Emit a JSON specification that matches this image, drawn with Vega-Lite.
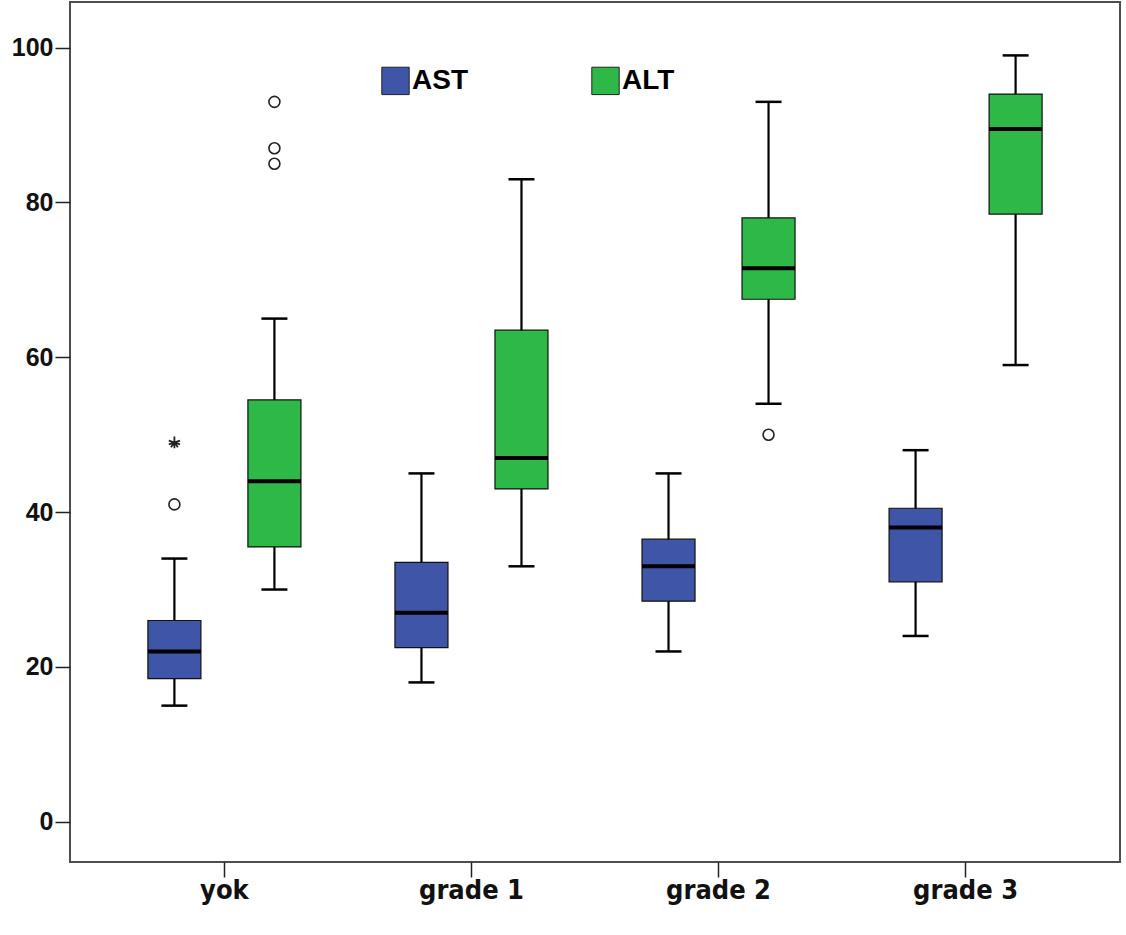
{
  "$schema": "https://vega.github.io/schema/vega-lite/v6.json",
  "autosize": "none",
  "width": 1050,
  "height": 860,
  "padding": {"left": 70, "top": 2, "right": 6, "bottom": 73},
  "background": "white",
  "config": {
    "view": {"stroke": "#4d4d4d", "strokeWidth": 2},
    "font": "Liberation Sans, Arial, sans-serif"
  },
  "datasets": {
    "boxes": [
      {"grade": "yok", "enzyme": "AST", "lower": 15, "q1": 18.5, "median": 22, "q3": 26, "upper": 34},
      {"grade": "yok", "enzyme": "ALT", "lower": 30, "q1": 35.5, "median": 44, "q3": 54.5, "upper": 65},
      {"grade": "grade 1", "enzyme": "AST", "lower": 18, "q1": 22.5, "median": 27, "q3": 33.5, "upper": 45},
      {"grade": "grade 1", "enzyme": "ALT", "lower": 33, "q1": 43, "median": 47, "q3": 63.5, "upper": 83},
      {"grade": "grade 2", "enzyme": "AST", "lower": 22, "q1": 28.5, "median": 33, "q3": 36.5, "upper": 45},
      {"grade": "grade 2", "enzyme": "ALT", "lower": 54, "q1": 67.5, "median": 71.5, "q3": 78, "upper": 93},
      {"grade": "grade 3", "enzyme": "AST", "lower": 24, "q1": 31, "median": 38, "q3": 40.5, "upper": 48},
      {"grade": "grade 3", "enzyme": "ALT", "lower": 59, "q1": 78.5, "median": 89.5, "q3": 94, "upper": 99}
    ],
    "outliers": [
      {"grade": "yok", "enzyme": "AST", "value": 41, "kind": "outlier"},
      {"grade": "yok", "enzyme": "AST", "value": 49, "kind": "extreme"},
      {"grade": "yok", "enzyme": "ALT", "value": 85, "kind": "outlier"},
      {"grade": "yok", "enzyme": "ALT", "value": 87, "kind": "outlier"},
      {"grade": "yok", "enzyme": "ALT", "value": 93, "kind": "outlier"},
      {"grade": "grade 2", "enzyme": "ALT", "value": 50, "kind": "outlier"}
    ]
  },
  "encoding": {
    "x": {
      "field": "grade", "type": "nominal",
      "sort": ["yok", "grade 1", "grade 2", "grade 3"],
      "scale": {"domain": ["yok", "grade 1", "grade 2", "grade 3"], "paddingInner": 0, "paddingOuter": 0.125},
      "axis": {
        "title": null, "domain": false, "labelAngle": 0,
        "tickColor": "#222", "tickWidth": 1.5, "tickSize": 15,
        "labelFont": "Liberation Sans Narrow, Arial Narrow, DejaVu Sans Condensed, Roboto Condensed, Liberation Sans, sans-serif",
        "labelFontSize": 27, "labelFontWeight": "bold",
        "labelColor": "#111", "labelPadding": 0
      }
    },
    "xOffset": {
      "field": "enzyme", "type": "nominal",
      "scale": {"domain": ["AST", "ALT"], "paddingInner": 0.47, "paddingOuter": 0.47}
    }
  },
  "layer": [
    {
      "data": {"name": "boxes"},
      "mark": {"type": "rule", "color": "black", "strokeWidth": 2.2},
      "encoding": {
        "y": {
          "field": "lower", "type": "quantitative",
          "scale": {"domain": [-5.2, 105.9], "nice": false, "zero": false},
          "axis": {
            "title": null, "domain": false, "grid": false,
            "values": [0, 20, 40, 60, 80, 100],
            "tickColor": "#222", "tickWidth": 1.5, "tickSize": 15,
            "labelFont": "Liberation Sans, Arial, sans-serif", "labelFontSize": 25, "labelFontWeight": "bold",
            "labelColor": "#111", "labelPadding": 2
          }
        },
        "y2": {"field": "upper"}
      }
    },
    {
      "data": {"name": "boxes"},
      "mark": {"type": "bar", "stroke": "#111", "strokeWidth": 1.2},
      "encoding": {
        "y": {"field": "q1", "type": "quantitative"},
        "y2": {"field": "q3"},
        "color": {
          "field": "enzyme", "type": "nominal",
          "scale": {"domain": ["AST", "ALT"], "range": ["#3f56a8", "#2db848"]},
          "legend": {
            "title": null, "orient": "none", "direction": "horizontal",
            "legendX": 311, "legendY": 64, "padding": 0,
            "symbolType": "square", "symbolSize": 750,
            "symbolStrokeColor": "#222", "symbolStrokeWidth": 1,
            "labelFont": "Liberation Sans, Arial, sans-serif", "labelFontSize": 28, "labelFontWeight": "bold",
            "labelColor": "black", "labelOffset": 2, "columnPadding": 121
          }
        }
      }
    },
    {
      "data": {"name": "boxes"},
      "mark": {"type": "tick", "color": "black", "thickness": 4, "size": 53, "opacity": 1},
      "encoding": {"y": {"field": "median", "type": "quantitative"}}
    },
    {
      "data": {"name": "boxes"},
      "mark": {"type": "tick", "color": "black", "thickness": 2.5, "size": 26, "opacity": 1},
      "encoding": {"y": {"field": "lower", "type": "quantitative"}}
    },
    {
      "data": {"name": "boxes"},
      "mark": {"type": "tick", "color": "black", "thickness": 2.5, "size": 26, "opacity": 1},
      "encoding": {"y": {"field": "upper", "type": "quantitative"}}
    },
    {
      "data": {"name": "outliers"},
      "transform": [{"filter": "datum.kind === 'outlier'"}],
      "mark": {"type": "point", "shape": "circle", "size": 120, "filled": false, "stroke": "#222", "strokeWidth": 1.6, "fill": "white", "fillOpacity": 1, "opacity": 1},
      "encoding": {"y": {"field": "value", "type": "quantitative"}}
    },
    {
      "data": {"name": "outliers"},
      "transform": [{"filter": "datum.kind === 'extreme'"}],
      "mark": {"type": "point", "shape": "M0,-1L0,1M-0.95,-0.31L0.95,0.31M-0.95,0.31L0.95,-0.31M-0.59,0.81L0,0M0.59,0.81L0,0", "size": 140, "filled": false, "stroke": "#222", "strokeWidth": 1.8, "opacity": 1},
      "encoding": {"y": {"field": "value", "type": "quantitative"}}
    }
  ]
}
